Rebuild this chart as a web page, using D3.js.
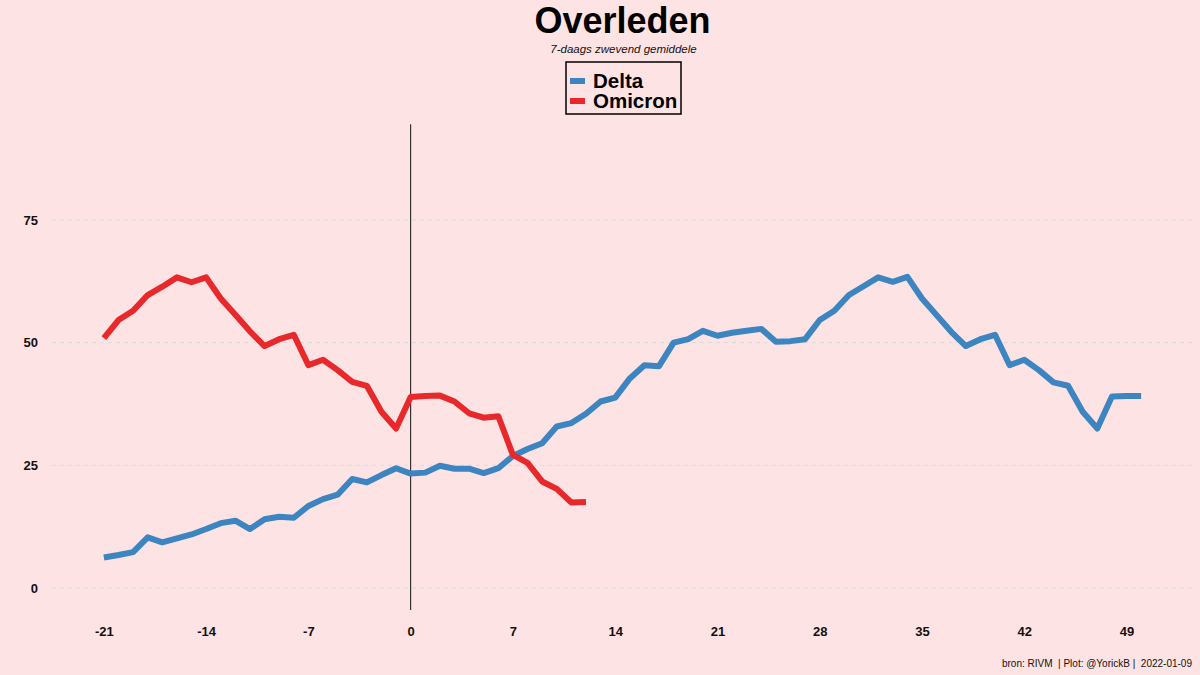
<!DOCTYPE html>
<html><head><meta charset="utf-8">
<script src="https://cdn.jsdelivr.net/npm/d3@7"></script>
<style>body{margin:0;background:#fee3e4;}svg{display:block;font-family:"Liberation Sans",Arial,sans-serif;}</style>
</head><body><svg id="c" width="1200" height="675"></svg>
<script>
const deltaDays = d3.range(-21, 51);
const deltaValues = [6.2,6.7,7.3,10.3,9.3,10.1,10.9,12.0,13.2,13.7,12.0,14.0,14.5,14.3,16.7,18.1,19.0,22.2,21.5,23.0,24.4,
  23.3,23.5,24.9,24.3,24.3,23.4,24.4,26.9,28.3,29.5,32.9,33.6,35.5,38.0,38.8,42.7,45.4,45.2,50.0,50.7,52.4,51.4,52.0,52.4,52.8,50.2,50.3,50.7,
  54.6,56.5,59.7,61.5,63.3,62.4,63.4,59.0,55.6,52.2,49.3,50.7,51.6,45.4,46.5,44.4,41.9,41.2,35.9,32.5,39.0,39.1,39.1];
const omicronDays = d3.range(-21, 13);
const omicronValues = [50.9,54.6,56.5,59.7,61.4,63.3,62.3,63.3,59.0,55.7,52.3,49.3,50.7,51.6,45.4,46.5,44.4,42.0,41.2,35.9,32.5,
  38.9,39.1,39.2,38.0,35.6,34.7,35.0,27.1,25.5,21.7,20.2,17.4,17.5];
const xTicks = [-21,-14,-7,0,7,14,21,28,35,42,49];
const yTicks = [0,25,50,75];
const seriesNames = ["Delta","Omicron"];
const colors = ["#3d85c1","#e8292b"];

const svg = d3.select("#c");
svg.append("rect").attr("width",1200).attr("height",675).attr("fill","#fee3e4");
const x = d3.scaleLinear().domain([-24.55,53.55]).range([52,1193]);
const y = d3.scaleLinear().domain([-4.5,94.5]).range([610,124.3]);

// grid
svg.append("g").selectAll("line").data(yTicks).join("line")
  .attr("x1",x.range()[0]).attr("x2",x.range()[1])
  .attr("y1",d=>y(d)).attr("y2",d=>y(d))
  .attr("stroke","#d7dcdc").attr("stroke-width",1).attr("stroke-dasharray","4,4");

const fmt = d => String(d);
// axes
const yAxis = svg.append("g").attr("transform",`translate(${x.range()[0]},0)`)
  .call(d3.axisLeft(y).tickValues(yTicks).tickFormat(fmt).tickSize(0).tickPadding(14));
yAxis.select(".domain").remove();
yAxis.selectAll("text").attr("font-size",13).attr("font-weight","bold").attr("fill","#111").attr("font-family","Liberation Sans, Arial, sans-serif");
const xAxis = svg.append("g").attr("transform",`translate(0,${y.range()[0]})`)
  .call(d3.axisBottom(x).tickValues(xTicks).tickFormat(fmt).tickSize(0).tickPadding(17));
xAxis.select(".domain").remove();
xAxis.selectAll("text").attr("font-size",13).attr("font-weight","bold").attr("fill","#111").attr("font-family","Liberation Sans, Arial, sans-serif");

// vertical line at 0
svg.append("line").attr("x1",x(0)).attr("x2",x(0)).attr("y1",y.range()[1]).attr("y2",y.range()[0])
  .attr("stroke","#111").attr("stroke-width",1);

const line = d3.line().x(d=>x(d[0])).y(d=>y(d[1]));
const series = [
  deltaDays.map((d,i)=>[d,deltaValues[i]]),
  omicronDays.map((d,i)=>[d,omicronValues[i]])
];
series.forEach((s,i)=>{
  svg.append("path").datum(s).attr("d",line).attr("fill","none")
    .attr("stroke",colors[i]).attr("stroke-width",6).attr("stroke-linejoin","round");
});

// title
svg.append("text").attr("x",622.5).attr("y",33).attr("text-anchor","middle")
  .attr("font-size",36).attr("font-weight","bold").attr("fill","#000").text("Overleden");
svg.append("text").attr("x",623.5).attr("y",53).attr("text-anchor","middle")
  .attr("font-size",11.5).attr("font-style","italic").attr("fill","#111").text("7-daags zwevend gemiddele");

// legend
const lg = svg.append("g");
lg.append("rect").attr("x",566).attr("y",62).attr("width",115).attr("height",52)
  .attr("fill","#fee3e4").attr("stroke","#000").attr("stroke-width",1.5);
seriesNames.forEach((n,i)=>{
  const yy = 81 + i*20;
  lg.append("line").attr("x1",570).attr("x2",585).attr("y1",yy).attr("y2",yy)
    .attr("stroke",colors[i]).attr("stroke-width",6);
  lg.append("text").attr("x",593).attr("y",yy+7).attr("font-size",20.5).attr("font-weight","bold")
    .attr("fill","#000").text(n);
});

// caption
svg.append("text").attr("x",1192).attr("y",667).attr("text-anchor","end")
  .attr("font-size",10).attr("fill","#111").style("white-space","pre")
  .text("bron: RIVM  | Plot: @YorickB |  2022-01-09");
</script></body></html>
